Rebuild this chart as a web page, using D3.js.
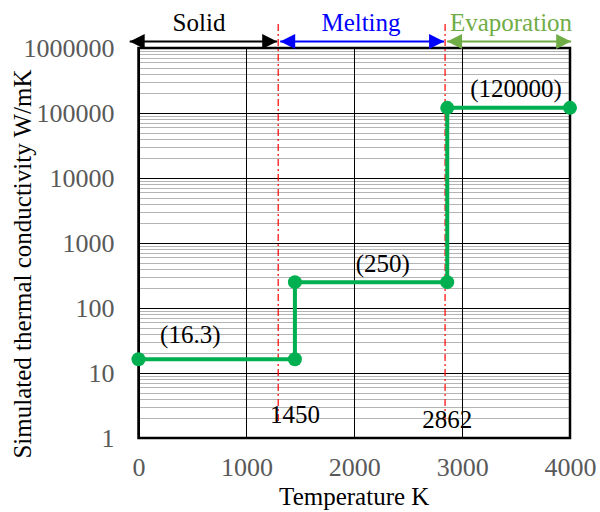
<!DOCTYPE html>
<html>
<head>
<meta charset="utf-8">
<script src="https://cdn.jsdelivr.net/npm/d3@7"></script>
<style>
  body { margin: 0; background: #fff; }
  svg text { font-family: "Liberation Serif", "Times New Roman", serif; }
</style>
</head>
<body>
<div id="app"></div>
<script>
// step curve of simulated thermal conductivity
const temperatures = [0, 1450, 1450, 2862, 2862, 4000];
const conductivities = [16.3, 16.3, 250, 250, 120000, 120000];

// value labels, placed in data space
const labelTexts = ['(16.3)', '(250)', '(120000)'];
const labelTemps = [480, 2265, 3500];
const labelValues = [29, 360, 178000];

// phase boundaries (red dash-dot) and their labels
const phaseLines = [1295, 2842];
const phaseLabels = ['1450', '2862'];

// phase arrows on top
const phaseNames = ['Solid', 'Melting', 'Evaporation'];
const phaseStart = [-100, 1295, 2842];
const phaseEnd = [1295, 2842, 4020];
const phaseColors = ['#000000', '#0000ff', '#70ad47'];

const xTicks = [0, 1000, 2000, 3000, 4000];
const yTicks = [1, 10, 100, 1000, 10000, 100000, 1000000];

const width = 600;
const height = 512;
const margin = {top: 48, left: 138.5, bottom: 74, right: 30};

const svg = d3.select('#app')
  .append('svg')
  .attr('width', width)
  .attr('height', height);

const x = d3.scaleLinear()
  .domain([0, 4000])
  .range([margin.left, width - margin.right]);

const y = d3.scaleLog()
  .domain([1, 1000000])
  .range([height - margin.bottom, margin.top]);

// minor gridlines
const minors = [];
yTicks.slice(0, -1).forEach(d => {
  for (let i = 2; i < 10; i++) minors.push(d * i);
});
svg.append('g')
  .selectAll('line')
  .data(minors)
  .join('line')
  .attr('x1', x(0))
  .attr('x2', x(4000))
  .attr('y1', d => Math.round(y(d)) + 0.5)
  .attr('y2', d => Math.round(y(d)) + 0.5)
  .style('stroke', '#b4b4b4')
  .style('stroke-width', 1);

// major gridlines
svg.append('g')
  .selectAll('line')
  .data(yTicks)
  .join('line')
  .attr('x1', x(0))
  .attr('x2', x(4000))
  .attr('y1', d => Math.round(y(d)) + 0.5)
  .attr('y2', d => Math.round(y(d)) + 0.5)
  .style('stroke', '#000')
  .style('stroke-width', 1);

svg.append('g')
  .selectAll('line')
  .data(xTicks)
  .join('line')
  .attr('x1', d => Math.round(x(d)) + 0.5)
  .attr('x2', d => Math.round(x(d)) + 0.5)
  .attr('y1', y(1))
  .attr('y2', y(1000000))
  .style('stroke', '#000')
  .style('stroke-width', 1);

// plot frame
svg.append('rect')
  .attr('x', x(0))
  .attr('y', y(1000000))
  .attr('width', x(4000) - x(0))
  .attr('height', y(1) - y(1000000))
  .style('fill', 'none')
  .style('stroke', '#000')
  .style('stroke-width', 2.5);

// axes (labels only)
const yAxis = svg.append('g')
  .attr('transform', `translate(${x(0) - 24}, 0)`)
  .call(d3.axisLeft(y).tickValues(yTicks).tickSize(0).tickFormat(d3.format('d')));
yAxis.select('.domain').remove();
yAxis.selectAll('text')
  .attr('x', 0)
  .attr('dy', '0.34em')
  .style('font-family', '"Liberation Serif", serif')
  .style('font-size', '26px')
  .style('fill', '#595959');

const xAxis = svg.append('g')
  .attr('transform', `translate(0, ${y(1) + 20})`)
  .call(d3.axisBottom(x).tickValues(xTicks).tickSize(0).tickFormat(d3.format('d')));
xAxis.select('.domain').remove();
xAxis.selectAll('text')
  .attr('y', 0)
  .attr('dy', '0.68em')
  .style('font-family', '"Liberation Serif", serif')
  .style('font-size', '26px')
  .style('fill', '#595959');

// axis titles
svg.append('text')
  .attr('x', (x(0) + x(4000)) / 2)
  .attr('y', 505)
  .attr('text-anchor', 'middle')
  .style('font-size', '25px')
  .style('fill', '#000')
  .text('Temperature K');

svg.append('text')
  .attr('transform', `translate(31, 264) rotate(-90)`)
  .attr('text-anchor', 'middle')
  .style('font-size', '25px')
  .style('fill', '#000')
  .text('Simulated thermal conductivity W/mK');

// phase boundary lines
svg.append('g')
  .selectAll('line')
  .data(phaseLines)
  .join('line')
  .attr('x1', d => x(d))
  .attr('x2', d => x(d))
  .attr('y1', 24)
  .attr('y2', 421)
  .style('stroke', '#ff0000')
  .style('stroke-width', 1.2)
  .style('stroke-dasharray', '7,3,2,3');

svg.append('g')
  .selectAll('text')
  .data(phaseLabels)
  .join('text')
  .attr('x', d => x(+d))
  .attr('y', (d, i) => i === 0 ? 423 : 428)
  .attr('text-anchor', 'middle')
  .style('font-size', '25px')
  .style('fill', '#000')
  .text(d => d);

// phase arrows
const defs = svg.append('defs');
phaseColors.forEach((c, i) => {
  defs.append('marker')
    .attr('id', `arrow-${i}`)
    .attr('viewBox', '0 0 10 10')
    .attr('refX', 10)
    .attr('refY', 5)
    .attr('markerUnits', 'userSpaceOnUse')
    .attr('markerWidth', 16)
    .attr('markerHeight', 15)
    .attr('orient', 'auto-start-reverse')
    .append('path')
    .attr('d', 'M0,0 L10,5 L0,10 Z')
    .style('fill', c);
});

const arrowY = 41.5;
phaseNames.forEach((name, i) => {
  svg.append('line')
    .attr('x1', x(phaseStart[i]) + 2)
    .attr('x2', x(phaseEnd[i]) - 1)
    .attr('y1', arrowY)
    .attr('y2', arrowY)
    .style('stroke', phaseColors[i])
    .style('stroke-width', 2)
    .attr('marker-start', `url(#arrow-${i})`)
    .attr('marker-end', `url(#arrow-${i})`);
});

const nameCenters = [199, 361, 511];
svg.append('g')
  .selectAll('text')
  .data(phaseNames)
  .join('text')
  .attr('x', (d, i) => nameCenters[i])
  .attr('y', 31)
  .attr('text-anchor', 'middle')
  .style('font-size', '25px')
  .style('fill', (d, i) => phaseColors[i])
  .text(d => d);

// step curve
const pts = temperatures.map((t, i) => [t, conductivities[i]]);
svg.append('path')
  .datum(pts)
  .attr('d', d3.line().x(d => x(d[0])).y(d => y(d[1])))
  .style('fill', 'none')
  .style('stroke', '#00b050')
  .style('stroke-width', 4);

svg.append('g')
  .selectAll('circle')
  .data(pts)
  .join('circle')
  .attr('cx', d => x(d[0]))
  .attr('cy', d => y(d[1]))
  .attr('r', 7)
  .style('fill', '#00b050');

// value labels
svg.append('g')
  .selectAll('text')
  .data(labelTexts)
  .join('text')
  .attr('x', (d, i) => x(labelTemps[i]))
  .attr('y', (d, i) => y(labelValues[i]))
  .attr('text-anchor', 'middle')
  .style('font-size', '25px')
  .style('fill', '#000')
  .text(d => d);
</script>
</body>
</html>
